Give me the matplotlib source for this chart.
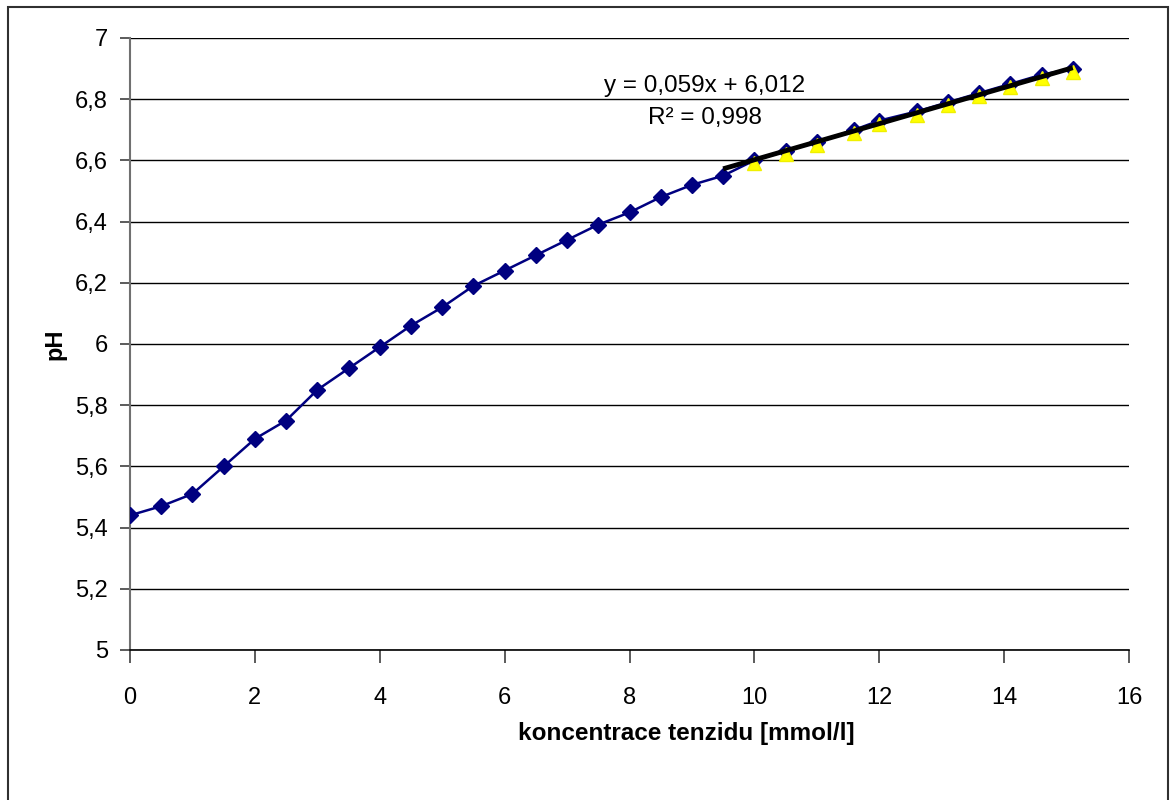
import numpy as np
import matplotlib.pyplot as plt
from matplotlib.patches import Rectangle

plt.rcParams['font.family'] = ['Liberation Sans', 'DejaVu Sans']

# concentration [mmol/l] and pH
conc = [0, 0.5, 1, 1.5, 2, 2.5, 3, 3.5, 4, 4.5, 5, 5.5, 6, 6.5, 7, 7.5, 8, 8.5, 9, 9.5,
        10, 10.5, 11, 11.6, 12, 12.6, 13.1, 13.6, 14.1, 14.6, 15.1]
ph = [5.44, 5.47, 5.51, 5.60, 5.69, 5.75, 5.85, 5.92, 5.99, 6.06, 6.12, 6.19, 6.24, 6.29,
      6.34, 6.39, 6.43, 6.48, 6.52, 6.55,
      6.60, 6.63, 6.66, 6.70, 6.73, 6.76, 6.79, 6.82, 6.85, 6.88, 6.90]

# linear part (trend series) and its regression from the chart label
lin_start = 10
trend_from = 9.5
slope = 0.059
intercept = 6.012

conc = np.array(conc)
ph = np.array(ph)

fig = plt.figure(figsize=(11.71, 8), dpi=100)
ax = fig.add_axes([130 / 1171, 1 - 650 / 800, 999 / 1171, 612 / 800])

# outer chart frame
fig.patches.append(Rectangle((8 / 1171, -0.01), 1160 / 1171, 1 - 7 / 800 + 0.01,
                             transform=fig.transFigure, fill=False,
                             edgecolor='#303030', linewidth=1.5))

ax.plot(conc, ph, color='#000080', lw=1.8, marker='D', markersize=8.5, zorder=3)

mask = conc >= lin_start
ax.plot(conc[mask], ph[mask] - 0.01, ls='none', marker='^', markersize=10.5,
        markerfacecolor='#FFFF00', markeredgecolor='#F0F000', zorder=4)

tx = np.array([trend_from, conc.max()])
ax.plot(tx, slope * tx + intercept, color='black', lw=3.5, zorder=5,
        solid_capstyle='butt')

ax.text(705 / 1171, 1 - 86 / 800, 'y = 0,059x + 6,012', transform=fig.transFigure,
        ha='center', va='center', fontsize=17.5)
ax.text(705 / 1171, 1 - 118 / 800, 'R² = 0,998', transform=fig.transFigure,
        ha='center', va='center', fontsize=17.5)

ax.set_xlim(0, 16)
ax.set_ylim(5, 7)
xt = np.arange(0, 17, 2)
yt = np.round(np.arange(5, 7.01, 0.2), 1)
ax.set_xticks(xt)
ax.set_xticklabels([str(v) for v in xt])
ax.set_yticks(yt)
ax.set_yticklabels([('%g' % v).replace('.', ',') for v in yt])
ax.tick_params(labelsize=17, length=7, width=1.2, color='#404040', pad=9)
ax.tick_params(axis='x', pad=18, length=9)

ax.grid(axis='y', color='black', lw=1)
ax.set_axisbelow(True)
for s in ['top', 'right']:
    ax.spines[s].set_visible(False)
ax.spines['left'].set_color('#707070')
ax.spines['left'].set_linewidth(1.5)
ax.spines['bottom'].set_color('black')
ax.spines['bottom'].set_linewidth(1.2)

ax.set_xlabel('koncentrace tenzidu [mmol/l]', fontsize=17.5, fontweight='bold')
ax.xaxis.set_label_coords((686 - 130) / 999, -72 / 612)
ax.set_ylabel('pH', fontsize=17, fontweight='bold')
ax.yaxis.set_label_coords(-64 / 999, 0.5)

fig.savefig('out.png', dpi=100)
